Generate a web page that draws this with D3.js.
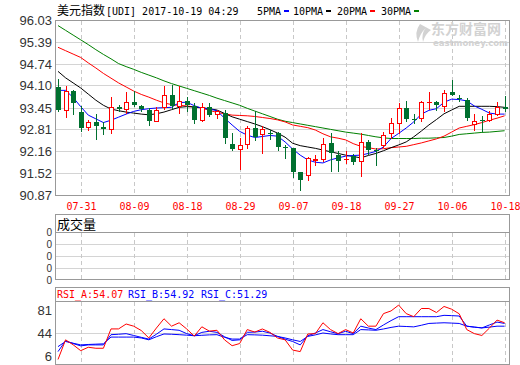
<!DOCTYPE html>
<html><head><meta charset="utf-8">
<script src="https://cdn.jsdelivr.net/npm/d3@7/dist/d3.min.js"></script>
<style>html,body{margin:0;padding:0;background:#fff;}svg{display:block}</style>
</head><body><svg id="c" width="520" height="365"></svg>
<script>
const dates = ["07-26","07-27","07-28","07-31","08-01","08-02","08-03","08-04","08-07","08-08",
"08-09","08-10","08-11","08-14","08-15","08-16","08-17","08-18","08-21","08-22",
"08-23","08-24","08-25","08-28","08-29","08-30","08-31","09-01","09-04","09-05",
"09-06","09-07","09-08","09-11","09-12","09-13","09-14","09-15","09-18","09-19",
"09-20","09-21","09-22","09-25","09-26","09-27","09-28","09-29","10-02","10-03",
"10-04","10-05","10-06","10-10","10-11","10-12","10-13","10-16","10-17","10-18"];
const labelDates = ["07-31","08-09","08-18","08-29","09-07","09-18","09-27","10-06","10-18"];
const open = [94.06,93.40,93.96,93.33,92.88,93.04,92.88,92.82,93.48,93.43,
93.63,93.50,93.40,93.08,93.47,93.84,93.50,93.67,93.50,93.11,
93.47,93.28,93.30,92.40,92.23,92.40,92.86,92.67,92.70,92.72,
92.29,92.27,91.55,91.46,91.92,91.95,92.41,92.07,91.94,92.04,
91.88,92.46,92.22,92.36,92.71,93.02,93.45,93.13,93.16,93.62,
93.63,93.52,93.92,93.74,93.69,92.99,93.10,93.11,93.27,93.47];
const high = [94.30,94.10,93.97,93.50,93.11,93.26,93.03,93.76,93.55,93.91,
93.94,93.53,93.45,93.47,94.09,94.13,94.09,93.76,93.60,93.60,
93.60,93.40,93.40,92.72,92.57,92.91,93.35,92.91,92.80,92.75,
92.36,92.27,91.57,92.00,92.07,92.56,92.71,92.17,92.19,92.10,
92.71,92.52,92.27,92.75,93.15,93.60,93.67,93.26,93.65,93.92,
93.67,93.99,94.28,93.84,93.74,93.26,93.21,93.35,93.63,93.79];
const low = [93.35,93.18,93.27,92.77,92.79,92.55,92.67,92.72,93.37,93.30,
93.50,93.35,92.96,93.06,93.43,93.45,93.30,93.35,93.01,93.08,
93.21,93.16,92.42,92.20,91.64,92.28,92.52,92.13,92.55,92.22,
91.98,91.43,91.02,91.32,91.78,91.88,91.58,91.58,91.84,91.80,
91.44,92.08,91.78,92.31,92.56,92.71,93.08,93.01,93.06,93.43,
93.40,93.37,93.82,93.65,93.11,92.79,92.77,93.08,93.24,93.35];
const close = [93.40,93.95,93.60,92.86,93.03,92.91,92.82,93.47,93.43,93.63,
93.53,93.41,93.08,93.40,93.82,93.50,93.67,93.55,93.11,93.47,
93.24,93.35,92.57,92.23,92.35,92.86,92.59,92.82,92.68,92.31,
92.26,91.55,91.34,91.97,91.94,92.39,92.12,91.88,91.95,91.85,
92.46,92.22,92.20,92.66,93.00,93.44,93.13,93.09,93.63,93.64,
93.53,93.89,93.84,93.71,93.16,93.08,93.08,93.27,93.47,93.43];
const ma5 = [93.97,93.97,93.76,93.49,93.24,93.13,93.02,93.09,93.18,93.27,
93.35,93.40,93.43,93.45,93.46,93.47,93.61,93.62,93.52,93.44,
93.42,93.37,93.15,92.95,92.76,92.65,92.58,92.61,92.64,92.62,
92.45,92.24,92.06,91.92,91.85,91.83,91.92,91.98,92.03,92.05,
92.06,92.11,92.17,92.30,92.55,92.70,92.86,93.04,93.27,93.38,
93.43,93.62,93.71,93.70,93.66,93.51,93.41,93.30,93.27,93.27];
const ma10 = [94.53,94.34,94.19,94.04,93.86,93.68,93.53,93.42,93.37,93.33,
93.30,93.27,93.25,93.28,93.33,93.40,93.47,93.49,93.48,93.46,
93.43,93.39,93.29,93.19,93.12,93.05,92.98,92.90,92.81,92.71,
92.59,92.41,92.34,92.30,92.26,92.21,92.16,92.11,92.06,92.02,
91.98,92.05,92.11,92.19,92.28,92.36,92.45,92.60,92.77,92.95,
93.11,93.28,93.39,93.50,93.50,93.50,93.50,93.50,93.49,93.47];
const ma20 = [95.24,95.14,95.04,94.94,94.78,94.63,94.47,94.33,94.19,94.07,
93.95,93.85,93.77,93.68,93.60,93.55,93.53,93.51,93.48,93.45,
93.38,93.32,93.28,93.24,93.23,93.22,93.20,93.17,93.14,93.10,
93.04,92.95,92.91,92.87,92.80,92.69,92.60,92.56,92.51,92.40,
92.32,92.28,92.24,92.25,92.28,92.30,92.32,92.37,92.42,92.48,
92.54,92.62,92.74,92.86,92.91,92.96,93.02,93.09,93.15,93.22];
const ma30 = [95.88,95.74,95.60,95.46,95.32,95.17,95.03,94.90,94.76,94.67,
94.59,94.50,94.42,94.34,94.25,94.17,94.10,94.03,93.96,93.89,
93.82,93.74,93.67,93.60,93.53,93.44,93.36,93.28,93.20,93.12,
93.06,93.02,92.98,92.94,92.90,92.86,92.82,92.78,92.74,92.71,
92.68,92.64,92.60,92.57,92.55,92.55,92.55,92.55,92.56,92.56,
92.57,92.58,92.62,92.67,92.69,92.71,92.73,92.74,92.76,92.78];
const rsiA = [1.3,33,25,15.5,21,19.4,19.4,50.6,50.6,58.5,
55,48,36,52,67,55,60.5,50.6,39,54,
47,48.4,33,23.5,27,49.5,45.5,50.5,45,36,
33,16.5,14,42.4,43,60.5,49.5,43,49.5,44,
67,55,55,75.3,79.6,89,75.3,70.3,83.5,83.5,
77,86.8,82.4,75,49.5,43,40,52,64.8,60.5];
const rsiB = [14,31.4,27,23.2,24.8,24.8,24.8,41.3,42,42.9,
40,37,34.2,42,50.6,49.5,48.4,43,39.6,45,
46.8,45,38,32,33,45.1,45.5,46.8,44,38.5,
34,30.3,24.8,39.6,44,49.5,46,42.9,46.8,42.9,
55,52,49.5,57,64,70.3,70.3,70.3,70.3,70.3,
70.3,72.5,72,71.4,55,53.5,52.2,57,61.6,59.4];
const rsiC = [22,30.3,27.5,24.8,25.5,26,26.5,37.4,37.4,37.4,
37.4,36,33,38,42.4,42,41.3,40.5,39.6,40.3,
41,41.3,37,34.2,34.2,41.3,41,40.5,39.5,38.5,
36,33,30.3,38.5,41,44,42.5,41.3,41.3,41.3,
49.5,49,48.4,50.5,53,55,54.5,53.9,56.5,59.4,
60,60.5,60,59.4,55,53.5,52.2,53.5,55,55];
const priceTicks = [96.03,95.39,94.74,94.10,93.45,92.81,92.16,91.52,90.87];
const rsiTicks = [81,44,6];
const volTicks = ["0","0","0","0","0"];
const maNames = ["5PMA","10PMA","20PMA","30PMA"];
const maColors = ["#0000ff","#000000","#ff0000","#008000"];

const svg = d3.select("#c");
const L = 55, R = 510;
const x = d3.scalePoint().domain(dates).range([58, 504.6]);
const cx = d => Math.round(x(d));
const yP = d3.scaleLinear().domain([90.87, 96.03]).range([195.5, 20.5]);
const yV = d3.scaleLinear().domain([0, 4]).range([280, 232.5]);
const yR = d3.scaleLinear().domain([-6, 94]).range([364, 302]);

const axisFont = "'Liberation Sans', Arial, sans-serif";
const mono = "'DejaVu Sans Mono', monospace";
const cjk = "'Noto Sans CJK SC', sans-serif";
const borderC = "#999", gridC = "#d4d4d4", dashC = "#c8c8c8";

// ---------- title / legend ----------
const title = svg.append("text").attr("x", 57).attr("y", 15).attr("fill", "#000");
title.append("tspan").attr("font-family", cjk).attr("font-size", 12).text("美元指数");
title.append("tspan").attr("x", 106).attr("font-family", mono).attr("font-size", 10).text("[UDI] 2017-10-19 04:29");
const legX = [257, 293, 337, 381];
maNames.forEach((n, i) => {
  svg.append("text").attr("x", legX[i]).attr("y", 15).attr("font-family", mono).attr("font-size", 10)
    .attr("fill", "#000").text(n);
  svg.append("rect").attr("x", legX[i] + n.length * 6 + 3).attr("y", 10).attr("width", 5).attr("height", 2)
    .attr("fill", maColors[i]);
});

// ---------- main panel ----------
svg.append("g").selectAll("line").data(priceTicks).join("line")
  .attr("x1", L).attr("x2", R).attr("y1", d => Math.round(yP(d) - 0.5) + 0.5).attr("y2", d => Math.round(yP(d) - 0.5) + 0.5)
  .attr("stroke", gridC);
function vgrid(y1, y2) {
  svg.append("g").selectAll("line").data(labelDates).join("line")
    .attr("x1", d => cx(d) + 0.5).attr("x2", d => cx(d) + 0.5).attr("y1", y1).attr("y2", y2)
    .attr("stroke", dashC).attr("stroke-dasharray", "4,3");
}
vgrid(21, 195);
// watermark
svg.append("text").attr("x", 431).attr("y", 34).attr("font-family", cjk).attr("font-size", 14).attr("font-weight", "bold")
  .attr("fill", "#d2d2d2").text("东方财富网");
svg.append("text").attr("x", 433).attr("y", 46).attr("font-family", "'DejaVu Sans', sans-serif").attr("font-size", 8.5)
  .attr("font-weight", "bold").attr("fill", "#d2d2d2").text("eastmoney.com");
svg.append("path").attr("d", "M420,24 q-6,8 -2,18 q2,-9 8,-14 q-5,5 -3,14 q2,-8 8,-12 z").attr("fill", "#d2d2d2");

// price labels
svg.selectAll(".pl").data(priceTicks).join("text")
  .attr("x", 52).attr("y", d => yP(d) + 4.5).attr("text-anchor", "end")
  .attr("font-family", axisFont).attr("font-size", 13).attr("fill", "#333")
  .text(d => d.toFixed(2));
// date labels
svg.selectAll(".dl").data(labelDates).join("text")
  .attr("x", d => cx(d) + 0.5).attr("y", 210).attr("text-anchor", "middle")
  .attr("font-family", mono).attr("font-size", 10).attr("fill", "#ff0000").text(d => d);

// MA lines
[[ma30, maColors[3]], [ma20, maColors[2]], [ma10, maColors[1]], [ma5, maColors[0]]].forEach(([arr, col]) => {
  svg.append("path").datum(arr)
    .attr("d", d3.line().x((v, i) => x(dates[i])).y(v => yP(v)))
    .attr("fill", "none").attr("stroke", col).attr("stroke-width", 1);
});

// candles
const candles = dates.map((d, i) => ({d, o: open[i], h: high[i], l: low[i], c: close[i]}));
const cg = svg.append("g");
candles.forEach(k => {
  const xc = cx(k.d);
  const up = k.c >= k.o;
  const col = up ? "#ff0000" : "#00702f";
  const yt = Math.round(yP(Math.max(k.o, k.c)));
  const yb = Math.round(yP(Math.min(k.o, k.c)));
  const yh = Math.round(yP(k.h)), yl = Math.round(yP(k.l));
  if (up) {
    cg.append("line").attr("x1", xc + 0.5).attr("x2", xc + 0.5).attr("y1", yh).attr("y2", yt).attr("stroke", col);
    cg.append("line").attr("x1", xc + 0.5).attr("x2", xc + 0.5).attr("y1", Math.max(yb, yt + 1)).attr("y2", yl + 1).attr("stroke", col);
    if (yb - yt >= 2) {
      cg.append("rect").attr("x", xc - 2 + 0.5).attr("y", yt + 0.5).attr("width", 4).attr("height", yb - yt)
        .attr("fill", "#fff").attr("stroke", col);
    } else {
      cg.append("rect").attr("x", xc - 2).attr("y", yt).attr("width", 5).attr("height", Math.max(1, yb - yt + 1)).attr("fill", col);
    }
  } else {
    cg.append("line").attr("x1", xc + 0.5).attr("x2", xc + 0.5).attr("y1", yh).attr("y2", yl + 1).attr("stroke", col);
    cg.append("rect").attr("x", xc - 2).attr("y", yt).attr("width", 5).attr("height", Math.max(1, yb - yt)).attr("fill", col);
  }
});

// main border
svg.append("rect").attr("x", L + 0.5).attr("y", 20.5).attr("width", R - L - 1).attr("height", 175)
  .attr("fill", "none").attr("stroke", borderC);

// ---------- volume panel ----------
[244.5, 256.5, 268.5].forEach(y => svg.append("line").attr("x1", L).attr("x2", R).attr("y1", y).attr("y2", y).attr("stroke", gridC));
vgrid(233, 279);
svg.append("rect").attr("x", L + 0.5).attr("y", 214.5).attr("width", R - L - 1).attr("height", 65)
  .attr("fill", "none").attr("stroke", borderC);
svg.append("line").attr("x1", L).attr("x2", R).attr("y1", 232.5).attr("y2", 232.5).attr("stroke", borderC);
svg.append("text").attr("x", 57).attr("y", 229).attr("font-family", cjk).attr("font-size", 13).attr("fill", "#000").text("成交量");
svg.selectAll(".vl").data(volTicks).join("text")
  .attr("x", 52).attr("y", (d, i) => yV(i) + 3.5).attr("text-anchor", "end")
  .attr("font-family", axisFont).attr("font-size", 10).attr("fill", "#333").text(d => d);

// ---------- RSI panel ----------
svg.append("line").attr("x1", L).attr("x2", R).attr("y1", Math.round(yR(44)) + 0.5).attr("y2", Math.round(yR(44)) + 0.5).attr("stroke", gridC);
vgrid(302, 364);
const rl = d3.line().x((v, i) => x(dates[i])).y(v => yR(v));
[[rsiC, "#0000ff"], [rsiB, "#0000ff"], [rsiA, "#ff0000"]].forEach(([arr, col]) => {
  svg.append("path").datum(arr).attr("d", rl).attr("fill", "none").attr("stroke", col).attr("stroke-width", 1);
});
svg.append("rect").attr("x", L + 0.5).attr("y", 287.5).attr("width", R - L - 1).attr("height", 77)
  .attr("fill", "none").attr("stroke", borderC);
svg.append("line").attr("x1", L).attr("x2", R).attr("y1", 301.5).attr("y2", 301.5).attr("stroke", borderC);
const rsiLeg = [["RSI_A:54.07", "#ff0000", 57], ["RSI_B:54.92", "#0000ff", 128], ["RSI_C:51.29", "#0000ff", 201]];
rsiLeg.forEach(([t, c, xx]) => svg.append("text").attr("x", xx).attr("y", 298).attr("font-family", mono)
  .attr("font-size", 10).attr("fill", c).text(t));
svg.selectAll(".rl").data(rsiTicks).join("text")
  .attr("x", 52).attr("y", d => yR(d) + 4.5).attr("text-anchor", "end")
  .attr("font-family", axisFont).attr("font-size", 13).attr("fill", "#333").text(d => d);
</script></body></html>
